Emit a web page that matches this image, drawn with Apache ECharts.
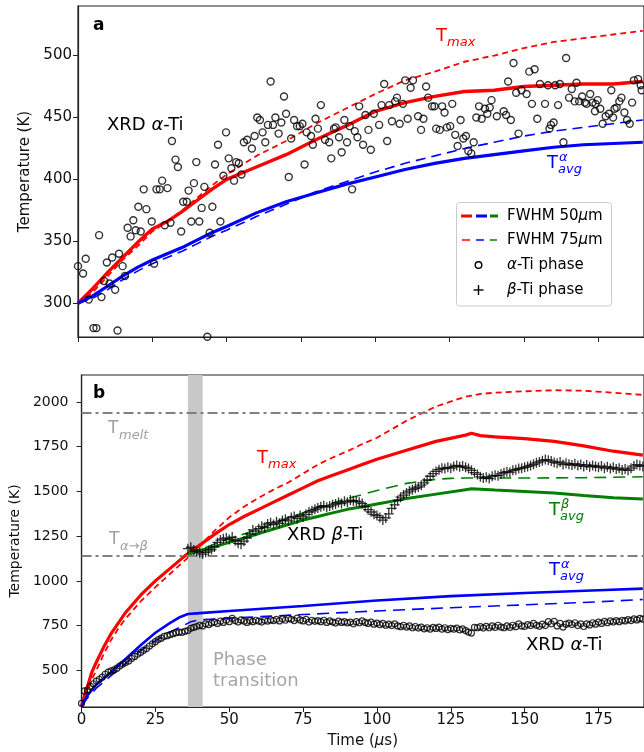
<!DOCTYPE html>
<html><head><meta charset="utf-8">
<script src="https://cdn.jsdelivr.net/npm/echarts@6/dist/echarts.min.js"></script>
<style>html,body{margin:0;padding:0;background:#fff}#c{width:644px;height:752px}</style>
</head><body><div id="c"></div>
<script>
// ---------------- DATA ----------------
const xTickValues = [0, 25, 50, 75, 100, 125, 150, 175];
const yTicksA = [300, 350, 400, 450, 500];
const yTicksB = [500, 750, 1000, 1250, 1500, 1750, 2000];

// Panel a (simulated lines)
const aTimes       = [0,5,10,15,20,25,30,35,40,45,50,60,70,80,90,100,110,120,130,140,150,160,170,180,190];
const aTmax50      = [300,312,325,337,349,360,366,374,383,392,400,410,420,432,443,455,462,467,471,472,475,476,477,477,479];
const aTmax75      = [300,309,322,335,346,358,366,375,385,395,404,419,431,445,457,469,480,487,495,500,506,511,514,517,520];
const aTavgA50     = [300,306,314,322,329,335,340,345,351,357,362,373,382,389,396,402,408,413,417,420,423,426,428,429,430];
const aTavgA75     = [300,304,311,319,326,332,337,342,348,354,359,370,380,390,398,406,413,419,425,430,435,439,442,445,448];

// Panel a XRD alpha-Ti points [time, T]
const aXrdAlpha = [
[0,330],[1.7,324],[2.6,336],[3.6,303],[5.2,280],[6.2,280],[7.1,355],[7.9,305],[8.8,318],[9.7,333],[10.6,316],[11.5,337],[12.5,311],[13.3,278],[13.8,340],[15.0,330],[15.8,322],[16.7,361],[17.7,354],[18.6,367],[19.4,359],[20.3,378],[21.1,358],[22.1,392],[23.0,376],[24.8,366],[25.6,332],[26.4,392],[27.5,392],[28.3,399],[29.2,363],[30.1,393],[31.1,365],[31.6,431],[32.8,416],[33.6,410],[34.7,358],[35.4,382],[36.6,382],[37.2,391],[38.1,366],[39.0,397],[39.8,414],[40.8,366],[41.6,377],[42.5,394],[43.5,273],[44.3,357],[45.2,378],[46.1,412],[47.9,366],
[47.1,428],[48.9,403],[49.8,438],[50.7,417],[51.6,409],[52.5,399],[53.2,414],[54.1,413],[55.0,404],[55.8,430],[56.9,432],[58.5,425],[59.4,435],[60.3,450],[61.2,448],[62.1,438],[63.0,430],[63.9,444],[64.8,479],[65.6,444],[66.4,450],[67.5,437],[68.4,446],[69.3,467],[70.0,453],[70.9,402],[71.7,433],[72.7,448],[73.7,443],[74.6,443],[75.5,445],[76.2,412],[76.9,438],[78.4,435],[79.0,428],[79.9,449],[80.7,441],[81.7,460],[83.1,432],[84.5,430],[85.2,417],[86.1,441],[86.7,442],[87.8,434],[88.7,422],[89.6,448],[90.5,430],[91.4,443],[92.2,392],[93.1,439],[94.0,434],[94.6,459],
[95.9,428],[96.7,452],[97.7,440],[98.5,424],[99.5,453],[101.3,444],[102.1,460],[103.0,477],[104.0,431],[104.7,460],[105.6,447],[106.7,463],[107.3,466],[108.2,445],[109.3,461],[110.1,480],[110.9,449],[111.9,474],[112.7,480],[114.4,451],[115.4,440],[116.2,449],[117.1,475],[117.8,466],[119.1,459],[119.9,459],[120.5,441],[121.7,440],[122.5,459],[123.3,454],[124.1,442],[125.2,443],[125.9,461],[126.9,436],[127.7,427],[128.7,448],[129.6,433],[130.5,435],[131.3,423],[132.3,421],[133.1,430],[134.0,450],[134.9,459],[135.8,449],[136.9,457],[137.7,453],[138.5,458],[139.1,464],[140.9,451],
[143.2,455],[144.0,452],[144.7,479],[145.6,448],[146.5,494],[147.4,470],[148.2,437],[149.2,472],[150.9,469],[151.8,487],[152.7,461],[153.6,489],[154.5,449],[155.4,477],[157.1,461],[158.1,476],[158.6,441],[159.1,444],[160.0,446],[160.5,476],[161.5,460],[162.1,477],[163.3,430],[164.2,498],[165.2,466],[166.1,473],[167.1,463],[167.7,478],[168.6,463],[169.6,467],[170.5,462],[171.1,461],[172.3,469],[173.1,462],[173.9,455],[174.1,461],[174.8,464],[175.7,457],[176.5,445],[177.5,451],[178.6,453],[179.4,472],[180.0,450],[180.5,457],[181.2,458],[182.1,463],[182.8,466],[183.8,454],[184.7,448],[185.6,445],[186.4,462],[187.0,480],[188.4,481],[189.3,476],[189.6,472]
];

// Panel b (simulated lines)
const bTmaxTimes   = [0,1,2,3.5,5,7.5,10,12.5,15,20,25,30,35,40,45,50,55,60,65,70,75,80,85,90,95,100,110,120,130,132,135,140,150,160,170,180,190];
const bTmax50      = [300,360,410,490,545,630,705,765,825,920,1000,1070,1140,1200,1260,1315,1360,1400,1440,1480,1520,1560,1590,1620,1650,1680,1730,1780,1815,1825,1812,1805,1795,1780,1755,1725,1703];
const bTmax75      = [300,335,380,450,500,590,670,735,790,885,965,1040,1115,1195,1280,1355,1415,1465,1510,1550,1600,1650,1690,1725,1765,1800,1895,1975,2030,2036,2045,2052,2060,2066,2063,2052,2040];
const bAvgATimes   = [0,2,5,10,15,20,25,30,33,36,40,50,75,100,125,150,175,190];
const bTavgA50     = [300,360,420,490,565,640,710,765,795,815,820,832,860,890,915,932,948,957];
const bAvgA75Times = [0,2,5,10,15,20,25,30,35,37,40,50,75,100,125,150,175,190];
const bTavgA75     = [300,345,400,470,540,610,665,715,755,772,782,792,812,832,850,866,883,896];
const bAvgBTimes   = [36,40,45,50,55,60,65,70,75,80,85,90,95,100,110,120,130,132,140,150,160,170,180,190];
const bTavgB50     = [1150,1170,1190,1215,1240,1265,1290,1315,1340,1360,1380,1400,1415,1430,1460,1485,1510,1515,1508,1500,1492,1478,1465,1458];
const bAvgB75Times = [36,40,50,60,70,80,90,100,110,120,125,130,150,170,190];
const bTavgB75     = [1150,1175,1235,1290,1350,1410,1460,1505,1545,1568,1573,1575,1575,1577,1582];

// Panel b XRD alpha-Ti (t = 0..190, step 1 us)
const bXrdAlpha = [315,385,390,410,425,440,450,462,478,490,497,502,512,525,535,545,552,566,578,590,
600,612,622,636,648,660,672,680,690,694,700,705,710,714,712,718,722,735,740,745,
752,748,760,755,764,770,762,775,768,780,772,790,778,770,782,775,768,778,772,780,
775,770,780,775,782,778,785,776,788,780,790,785,778,792,782,776,785,770,780,774,
778,772,780,768,776,770,764,775,768,772,765,770,760,772,766,776,768,762,770,758,
764,755,762,752,758,750,760,748,744,752,742,748,738,745,736,742,732,738,730,740,
734,742,730,738,728,735,730,736,726,732,722,714,708,740,738,744,736,746,738,748,
740,752,742,738,748,740,752,744,760,748,745,756,750,762,752,746,758,750,772,760,
774,748,762,742,758,764,756,766,750,760,745,760,754,766,758,770,762,774,766,776,
770,778,772,780,776,784,778,788,782,790,786];
const bXrdAlphaStart = 0;

// Panel b XRD beta-Ti (t = 36..190, step 1 us)
const bXrdBeta = [1180,1188,1172,1165,1158,1150,1160,1168,1175,1190,1215,1228,1235,1240,1232,1245,1225,1210,1205,1222,
1240,1262,1285,1278,1292,1305,1298,1318,1325,1315,1330,1322,1338,1345,1335,1355,1360,1348,1365,1358,
1372,1385,1392,1400,1408,1415,1420,1412,1418,1425,1430,1438,1432,1445,1440,1452,1448,1445,1440,1432,
1415,1398,1385,1372,1365,1355,1340,1352,1375,1405,1425,1450,1468,1480,1492,1502,1510,1518,1525,1535,
1548,1565,1585,1600,1612,1622,1630,1628,1635,1630,1640,1645,1638,1642,1635,1628,1618,1605,1595,1582,
1575,1580,1572,1585,1590,1588,1598,1605,1610,1608,1618,1622,1628,1630,1635,1640,1645,1652,1660,1665,
1672,1678,1675,1670,1662,1658,1665,1650,1658,1652,1648,1655,1645,1650,1640,1648,1638,1645,1640,1635,
1642,1630,1638,1628,1635,1625,1630,1620,1625,1618,1630,1642,1650,1645,1640];
const bXrdBetaStart = 36;

const T_MELT = 1941;
const T_ALPHA_BETA = 1143;
const PHASE_BAND = [36, 41];

// ---------------- BUILD ----------------
const FONT = 'DejaVu Sans';
const zip = (xs, ys) => xs.map((x, i) => [x, ys[i]]);
const seq = (start, ys) => ys.map((y, i) => [start + i, y]);
const X_MAX = 190.4;

const axisCol = '#222';
function xAxisCfg(grid, labels) {
  return {
    gridIndex: grid, type: 'value', min: 0, max: X_MAX,
    axisLine: {show: true, onZero: false, lineStyle: {color: axisCol, width: 1.2}},
    axisTick: {show: true, customValues: xTickValues, length: 5, lineStyle: {color: axisCol, width: 1}},
    axisLabel: labels ? {show: true, customValues: xTickValues, fontSize: 15, color: '#111', fontFamily: FONT, margin: 6, formatter: v => String(v)} : {show: false},
    splitLine: {show: false},
    name: labels ? 'Time ({i|μ}s)' : '',
    nameLocation: 'middle', nameGap: 27,
    nameTextStyle: {fontSize: 15, color: '#111', fontFamily: FONT, rich: {i: {fontStyle: 'italic', fontSize: 15, fontFamily: FONT, color: '#111'}}}
  };
}
function yAxisCfg(grid, min, max, ticks, gap, fs, margin) {
  return {
    gridIndex: grid, type: 'value', min: min, max: max,
    axisLine: {show: true, onZero: false, lineStyle: {color: axisCol, width: 1.2}},
    axisTick: {show: true, customValues: ticks, length: 5, lineStyle: {color: axisCol, width: 1}},
    axisLabel: {show: true, customValues: ticks, fontSize: fs, color: '#111', fontFamily: FONT, margin: margin, formatter: v => String(v)},
    splitLine: {show: false},
    name: 'Temperature (K)', nameLocation: 'middle', nameGap: gap,
    nameTextStyle: {fontSize: fs, color: '#111', fontFamily: FONT}
  };
}
function line(name, data, xi, color, width, dash, z) {
  return {
    name, type: 'line', xAxisIndex: xi, yAxisIndex: xi, data, showSymbol: false, symbol: 'none',
    animation: false, silent: true, z: z || 3,
    lineStyle: {color, width, type: dash || 'solid'}
  };
}
const circleSym = 'circle';
const plusSym = 'path://M4.35,0H5.65V4.35H10V5.65H5.65V10H4.35V5.65H0V4.35H4.35Z';

const series = [
  // panel a
  line('Tmax 50', zip(aTimes, aTmax50), 0, '#ff0000', 3.4),
  line('Tmax 75', zip(aTimes, aTmax75), 0, '#ff0000', 1.8, [6, 4]),
  line('Tavg a 50', zip(aTimes, aTavgA50), 0, '#0000ff', 3.2),
  line('Tavg a 75', zip(aTimes, aTavgA75), 0, '#0000ff', 1.6, [10, 6]),
  {name: 'a-Ti phase', type: 'scatter', xAxisIndex: 0, yAxisIndex: 0, data: aXrdAlpha, symbol: circleSym, symbolSize: 7,
   animation: false, silent: true, z: 5, itemStyle: {color: 'rgba(0,0,0,0)', borderColor: '#000', borderWidth: 1.4}},
  // panel b
  {name: 'refs', type: 'line', xAxisIndex: 1, yAxisIndex: 1, data: [], animation: false, silent: true, z: 1,
   markArea: {silent: true, itemStyle: {color: '#c8c8c8'}, data: [[{xAxis: PHASE_BAND[0]}, {xAxis: PHASE_BAND[1]}]]},
   markLine: {silent: true, symbol: ['none', 'none'], label: {show: false}, animation: false,
     lineStyle: {color: '#808080', width: 2, type: [10, 4, 3, 4]},
     data: [{yAxis: T_MELT}, {yAxis: T_ALPHA_BETA}]}},
  line('Tmax 50 b', zip(bTmaxTimes, bTmax50), 1, '#ff0000', 3.2),
  line('Tmax 75 b', zip(bTmaxTimes, bTmax75), 1, '#ff0000', 1.8, [6, 4]),
  line('Tavg a 50 b', zip(bAvgATimes, bTavgA50), 1, '#0000ff', 2.6),
  line('Tavg a 75 b', zip(bAvgA75Times, bTavgA75), 1, '#0000ff', 1.6, [12, 7]),
  line('Tavg b 50 b', zip(bAvgBTimes, bTavgB50), 1, '#008000', 3.0),
  line('Tavg b 75 b', zip(bAvgB75Times, bTavgB75), 1, '#008000', 1.6, [12, 7]),
  {name: 'a-Ti b', type: 'scatter', xAxisIndex: 1, yAxisIndex: 1, data: seq(bXrdAlphaStart, bXrdAlpha), symbol: circleSym, symbolSize: 6,
   animation: false, silent: true, z: 5, itemStyle: {color: 'rgba(0,0,0,0)', borderColor: '#000', borderWidth: 1.2}},
  {name: 'b-Ti b', type: 'scatter', xAxisIndex: 1, yAxisIndex: 1, data: seq(bXrdBetaStart, bXrdBeta), symbol: plusSym, symbolSize: 10,
   animation: false, silent: true, z: 5, itemStyle: {color: '#000'}}
];

// ---------------- TEXT / LEGEND ----------------
function txt(x, y, text, size, color, extra) {
  return {type: 'text', x: x, y: y, z: 100, silent: true,
    style: Object.assign({text: text, fontSize: size, fontFamily: FONT, fill: color,
      align: 'left', textAlign: 'left', verticalAlign: 'middle', textVerticalAlign: 'middle'}, extra || {})};
}
const it = {fontStyle: 'italic'};
function richIt(size, color) { return {rich: {i: {fontStyle: 'italic', fontSize: size, fontFamily: FONT, fill: color, color: color}}}; }
function subLabel(x, y, base, sub, sup, color, size) {
  const els = [txt(x, y, base, size, color)];
  if (sub) els.push(txt(x + 11, y + 7, sub, 13, color, it));
  if (sup) els.push(txt(x + 12, y - 5, sup, 13, color, it));
  return els;
}

const graphics = [].concat(
  [txt(93, 26, 'a', 17, '#000', {fontWeight: 'bold'})],
  [txt(107, 125, 'XRD {i|α}-Ti', 18, '#000', richIt(18, '#000'))],
  subLabel(436, 36, 'T', 'max', null, '#ff0000', 18),
  subLabel(547, 163, 'T', 'avg', 'α', '#0000ff', 18),
  // legend box
  [{type: 'rect', z: 90, silent: true, shape: {x: 456.5, y: 202.5, width: 155, height: 103.5, r: 3},
    style: {fill: 'rgba(255,255,255,0.85)', stroke: '#cccccc', lineWidth: 1}}],
  [
    {type: 'line', z: 95, silent: true, shape: {x1: 461, y1: 216, x2: 472, y2: 216}, style: {stroke: '#ff0000', lineWidth: 3}},
    {type: 'line', z: 95, silent: true, shape: {x1: 476, y1: 216, x2: 487, y2: 216}, style: {stroke: '#0000ff', lineWidth: 3}},
    {type: 'line', z: 95, silent: true, shape: {x1: 490, y1: 216, x2: 498, y2: 216}, style: {stroke: '#008000', lineWidth: 3}},
    {type: 'line', z: 95, silent: true, shape: {x1: 462, y1: 240, x2: 470, y2: 240}, style: {stroke: '#ff0000', lineWidth: 1.5}},
    {type: 'line', z: 95, silent: true, shape: {x1: 476, y1: 240, x2: 484, y2: 240}, style: {stroke: '#0000ff', lineWidth: 1.5}},
    {type: 'line', z: 95, silent: true, shape: {x1: 490, y1: 240, x2: 497, y2: 240}, style: {stroke: '#008000', lineWidth: 1.5}},
    {type: 'circle', z: 95, silent: true, shape: {cx: 478.5, cy: 265, r: 3.3}, style: {fill: 'none', stroke: '#000', lineWidth: 1.4}},
    {type: 'line', z: 95, silent: true, shape: {x1: 473.5, y1: 290, x2: 483.5, y2: 290}, style: {stroke: '#000', lineWidth: 1.4}},
    {type: 'line', z: 95, silent: true, shape: {x1: 478.5, y1: 285, x2: 478.5, y2: 295}, style: {stroke: '#000', lineWidth: 1.4}}
  ],
  [
    txt(507, 216, 'FWHM 50{i|μ}m', 15, '#000', richIt(15, '#000')),
    txt(507, 240, 'FWHM 75{i|μ}m', 15, '#000', richIt(15, '#000')),
    txt(507, 265, '{i|α}-Ti phase', 15, '#000', richIt(15, '#000')),
    txt(507, 290, '{i|β}-Ti phase', 15, '#000', richIt(15, '#000'))
  ],
  // panel b
  [txt(93, 394, 'b', 17, '#000', {fontWeight: 'bold'})],
  subLabel(108, 429, 'T', 'melt', null, '#a0a0a0', 17),
  subLabel(109, 540, 'T', 'α→β', null, '#a0a0a0', 17),
  subLabel(257, 458, 'T', 'max', null, '#ff0000', 18),
  [txt(287, 535, 'XRD {i|β}-Ti', 18, '#000', richIt(18, '#000'))],
  subLabel(549, 510, 'T', 'avg', 'β', '#008000', 18),
  subLabel(549, 570, 'T', 'avg', 'α', '#0000ff', 18),
  [txt(526, 645, 'XRD {i|α}-Ti', 18, '#000', richIt(18, '#000'))],
  [txt(213, 660, 'Phase', 18, '#a6a6a6'), txt(213, 681, 'transition', 18, '#a6a6a6')]
);

const option = {
  backgroundColor: '#fff',
  animation: false,
  textStyle: {fontFamily: FONT},
  grid: [
    {left: 78, top: 6, width: 567, height: 331, show: true, borderColor: axisCol, borderWidth: 1.2, backgroundColor: 'rgba(0,0,0,0)'},
    {left: 78, top: 375, width: 567, height: 332, show: true, borderColor: axisCol, borderWidth: 1.2, backgroundColor: 'rgba(0,0,0,0)'}
  ],
  xAxis: [xAxisCfg(0, false), xAxisCfg(1, true)],
  yAxis: [yAxisCfg(0, 272.8, 540, yTicksA, 40, 15, 6), yAxisCfg(1, 295, 2151, yTicksB, 50, 14, 13)],
  series: series,
  graphic: {elements: graphics}
};

const chart = echarts.init(document.getElementById('c'), null, {renderer: 'canvas'});
chart.setOption(option);
</script></body></html>
